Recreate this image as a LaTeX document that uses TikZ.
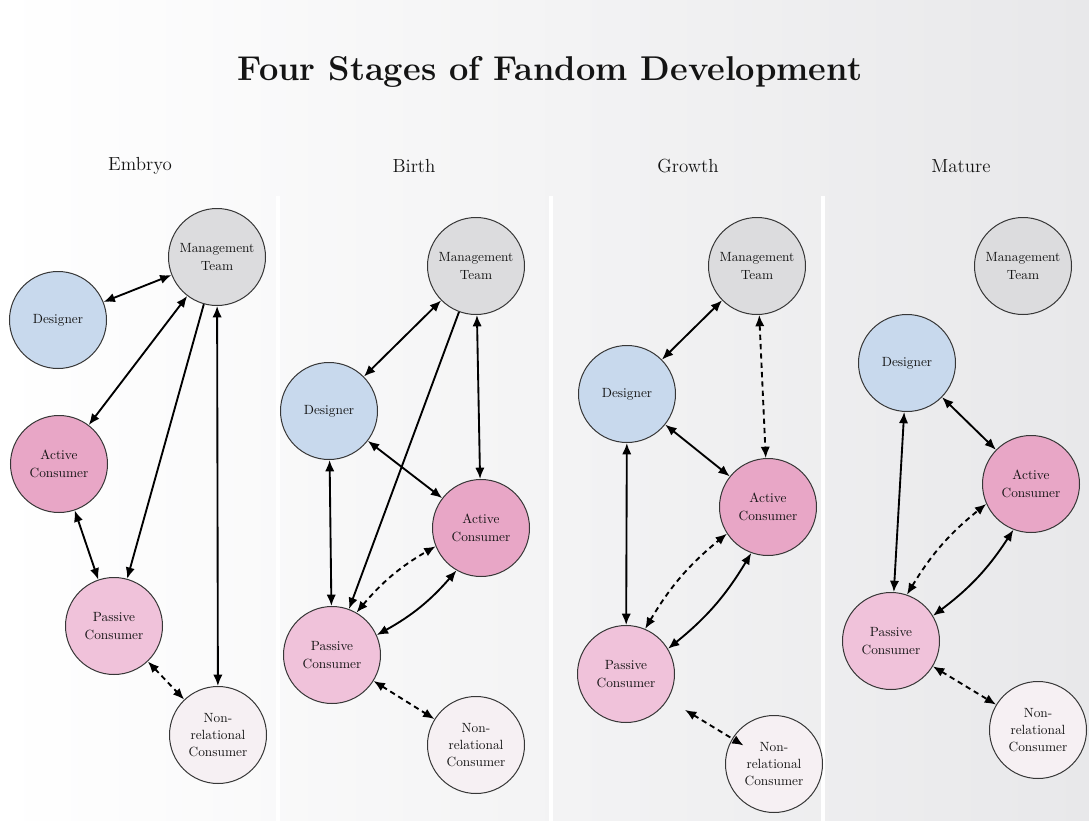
\documentclass[tikz,border=0pt]{standalone}
\usetikzlibrary{arrows.meta}
\definecolor{mgmt}{RGB}{220,220,222}
\definecolor{desg}{RGB}{200,217,237}
\definecolor{actv}{RGB}{232,166,198}
\definecolor{pasv}{RGB}{240,194,218}
\definecolor{nonr}{RGB}{246,240,243}
\definecolor{rim}{RGB}{55,55,55}
\definecolor{ink}{RGB}{20,20,20}
\definecolor{bgright}{RGB}{232,232,234}
\begin{document}
\begin{tikzpicture}[x=0.75pt,y=0.75pt,
  actor/.style={circle,draw=rim,line width=0.75pt,minimum size=72.75pt,inner sep=0pt,
    align=center,text=ink,font=\fontsize{10}{13}\selectfont},
  mgr/.style={actor,fill=mgmt},
  dsg/.style={actor,fill=desg},
  act/.style={actor,fill=actv},
  pas/.style={actor,fill=pasv},
  nrl/.style={actor,fill=nonr},
  link/.style={line width=1.4pt,black},
  both/.style={link,{Latex[length=8.5pt,width=7pt]}-{Latex[length=8.5pt,width=7pt]}},
  one/.style={link,-{Latex[length=8.5pt,width=7pt]}},
  weak/.style={both,dash pattern=on 4pt off 3pt},
  stage/.style={font=\fontsize{14.2}{17}\selectfont,text=ink},
  divider/.style={fill=white}
]
\useasboundingbox (0,0) rectangle (1089,-821);
% background and panel dividers
\fill[left color=white,right color=bgright] (0,0) rectangle (1089,-821);
\fill[divider] (276,-196) rectangle (280,-821);
\fill[divider] (549,-196) rectangle (553,-821);
\fill[divider] (821,-196) rectangle (825,-821);

% headings
\node[font=\bfseries\fontsize{25.8}{30}\selectfont,text=ink] (title) at (550,-72) {Four Stages of Fandom Development};
\node[stage] (hA) at (140,-166) {Embryo};
\node[stage] (hB) at (414,-166) {Birth};
\node[stage] (hC) at (688,-166) {Growth};
\node[stage] (hD) at (961,-166) {Mature};

% Embryo
\node[mgr] (mA) at (217,-257) {Management\\Team};
\node[dsg] (dA) at (58,-320) {Designer};
\node[act] (aA) at (59,-464) {Active\\Consumer};
\node[pas] (pA) at (114,-626) {Passive\\Consumer};
\node[nrl] (nA) at (218,-735) {Non-\\relational\\Consumer};
\draw[both] (dA) -- (mA);
\draw[both] (mA) -- (aA);
\draw[one] (mA) -- (pA);
\draw[both] (mA) -- (nA);
\draw[both] (aA) -- (pA);
\draw[weak] (pA) -- (nA);

% Birth
\node[mgr] (mB) at (476,-266) {Management\\Team};
\node[dsg] (dB) at (329,-411) {Designer};
\node[act] (aB) at (481,-528) {Active\\Consumer};
\node[pas] (pB) at (332,-655) {Passive\\Consumer};
\node[nrl] (nB) at (476,-745) {Non-\\relational\\Consumer};
\draw[both] (mB) -- (dB);
\draw[one] (mB) -- (pB);
\draw[both] (mB) -- (aB);
\draw[both] (dB) -- (aB);
\draw[both] (dB) -- (pB);
\draw[weak] (pB.60) to[bend left=10] (aB.202);
\draw[both] (pB.24) to[bend right=10] (aB.240);
\draw[weak] (pB) -- (nB);

% Growth
\node[mgr] (mC) at (757,-266) {Management\\Team};
\node[dsg] (dC) at (627,-394) {Designer};
\node[act] (aC) at (768,-507) {Active\\Consumer};
\node[pas] (pC) at (626,-674) {Passive\\Consumer};
\node[nrl] (nC) at (774,-764) {Non-\\relational\\Consumer};
\draw[both] (mC) -- (dC);
\draw[weak] (mC) -- (aC);
\draw[both] (dC) -- (aC);
\draw[both] (dC) -- (pC);
\draw[weak] (pC.67) to[bend left=10] (aC.213);
\draw[both] (pC.31) to[bend right=10] (aC.250);
\draw[weak,shorten <=15pt,shorten >=-10pt] (pC) -- (nC);

% Mature
\node[mgr] (mD) at (1023,-266) {Management\\Team};
\node[dsg] (dD) at (907,-363) {Designer};
\node[act] (aD) at (1031,-484) {Active\\Consumer};
\node[pas] (pD) at (891,-641) {Passive\\Consumer};
\node[nrl] (nD) at (1038,-730) {Non-\\relational\\Consumer};
\draw[both] (dD) -- (aD);
\draw[both] (dD) -- (pD);
\draw[weak] (pD.71) to[bend left=10] (aD.204);
\draw[both] (pD.31) to[bend right=10] (aD.249);
\draw[weak] (pD) -- (nD);
\end{tikzpicture}
\end{document}
